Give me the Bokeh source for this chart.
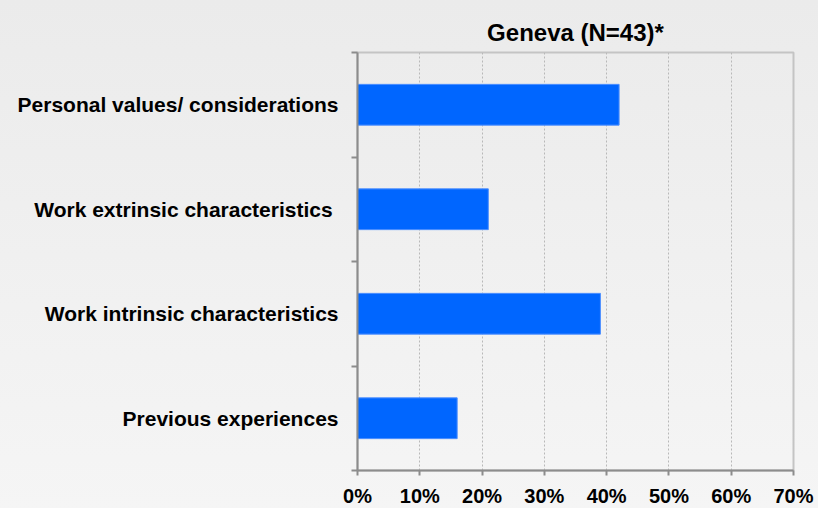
from bokeh.plotting import figure
from bokeh.models import FixedTicker, NumeralTickFormatter, Range1d, ColumnDataSource, InlineStyleSheet
from bokeh.embed import file_html
from bokeh.resources import INLINE

title_text = "Geneva (N=43)*"
categories = ["Previous experiences", "Work intrinsic characteristics",
              "Work extrinsic characteristics ", "Personal values/ considerations"]
values = [0.16, 0.39, 0.21, 0.42]
x_ticks = [0.0, 0.1, 0.2, 0.3, 0.4, 0.5, 0.6, 0.7]

ypos = [i + 0.5 for i in range(len(categories))]
src = ColumnDataSource(dict(y=ypos, v=values, cat=categories))

FONT = "Liberation Sans"

p = figure(width=818, height=508, output_backend="svg", toolbar_location=None,
           x_range=Range1d(0, 0.7), y_range=Range1d(0, 4),
           min_border_left=357, min_border_right=25, min_border_top=52, min_border_bottom=38,
           background_fill_alpha=0, border_fill_alpha=0,
           title=title_text)
p.frame_width = 436
p.frame_height = 418
p.stylesheets = [InlineStyleSheet(css=":host { background: linear-gradient(to bottom, #ebebeb, #f5f5f5); }")]

p.hbar(y="y", right="v", left=0, height=0.39, source=src, color="#0066ff", line_color="#4d8fff", line_width=1)

p.title.align = "center"
p.title.text_font = FONT
p.title.text_font_size = "24px"
p.title.text_font_style = "bold"
p.title.text_color = "#000000"
p.title.offset = 0
p.title.standoff = 14

p.outline_line_color = "#c4c4c4"
p.outline_line_width = 2

# x axis
xa = p.xaxis[0]
xa.ticker = FixedTicker(ticks=x_ticks)
xa.formatter = NumeralTickFormatter(format="0%")
xa.major_label_text_font = FONT
xa.major_label_text_font_size = "20px"
xa.major_label_text_font_style = "bold"
xa.major_label_text_color = "#000000"
xa.axis_line_color = "#8c8c8c"
xa.axis_line_width = 2
xa.major_tick_line_color = "#8c8c8c"
xa.major_tick_line_width = 2
xa.major_tick_in = 0
xa.major_tick_out = 5
xa.minor_tick_line_color = None
xa.major_label_standoff = 9

# y axis: labels at category centres, tick marks at category boundaries
ya = p.yaxis[0]
ya.ticker = FixedTicker(ticks=ypos, minor_ticks=[0, 1, 2, 3, 4])
ya.major_label_overrides = {y: c for y, c in zip(ypos, categories)}
ya.major_label_text_font = FONT
ya.major_label_text_font_size = "21px"
ya.major_label_text_font_style = "bold"
ya.major_label_text_color = "#000000"
ya.axis_line_color = "#8c8c8c"
ya.axis_line_width = 2
ya.major_tick_line_color = None
ya.major_tick_in = 0
ya.major_tick_out = 0
ya.minor_tick_line_color = "#8c8c8c"
ya.minor_tick_line_width = 2
ya.minor_tick_in = 0
ya.minor_tick_out = 6
ya.major_label_standoff = 13

p.ygrid.grid_line_color = None
p.xgrid.grid_line_color = "#b8b8b8"
p.xgrid.grid_line_dash = "2 2"
p.xgrid.grid_line_width = 1

open("out.html", "w").write(file_html(p, INLINE))
